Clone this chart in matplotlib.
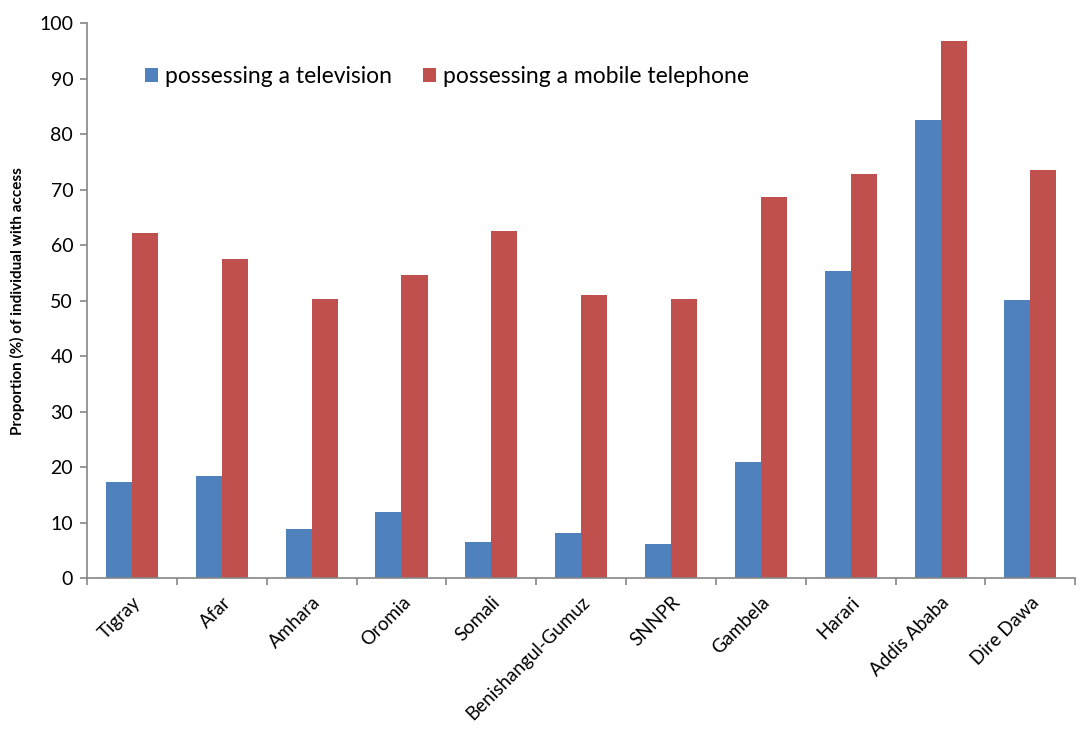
import matplotlib.pyplot as plt
import numpy as np

regions = ['Tigray', 'Afar', 'Amhara', 'Oromia', 'Somali', 'Benishangul-Gumuz',
           'SNNPR', 'Gambela', 'Harari', 'Addis Ababa', 'Dire Dawa']
television = [17.3, 18.4, 8.9, 11.9, 6.5, 8.1, 6.2, 21.0, 55.3, 82.6, 50.1]
mobile = [62.3, 57.5, 50.3, 54.6, 62.5, 51.0, 50.3, 68.7, 72.9, 96.8, 73.5]
yticks = [0, 10, 20, 30, 40, 50, 60, 70, 80, 90, 100]

plt.rcParams['font.family'] = ['Lato', 'DejaVu Sans']

fig = plt.figure(figsize=(10.84, 7.29), dpi=100)
ax = fig.add_axes([0.0803, 0.2067, 0.9117, 0.7613])

x = np.arange(len(regions))
w = 0.29
ax.bar(x - w / 2, television, w, color='#4F81BD', label='possessing a television')
ax.bar(x + w / 2, mobile, w, color='#C0504D', label='possessing a mobile telephone')

# axes and ticks
ax.set_xlim(-0.5, len(regions) - 0.5)
ax.set_ylim(0, 100)
ax.set_yticks(yticks)
ax.set_yticklabels([str(t) for t in yticks], fontsize=14)
ax.set_xticks(np.arange(len(regions) + 1) - 0.5, minor=False)
ax.set_xticklabels([])
ax.set_xticks(x, minor=True)
ax.set_xticklabels(regions, minor=True, rotation=45, ha='right',
                   rotation_mode='anchor', fontsize=13.5)
ax.tick_params(axis='x', which='minor', length=0, pad=11)
ax.tick_params(axis='x', which='major', length=5, color='#868686', width=1.2)
ax.tick_params(axis='y', length=5, color='#868686', width=1.2, pad=5)

for s in ['top', 'right']:
    ax.spines[s].set_visible(False)
for s in ['left', 'bottom']:
    ax.spines[s].set_color('#868686')
    ax.spines[s].set_linewidth(1.2)

ax.set_ylabel('Proportion (%) of individual with access', fontsize=11,
              fontweight='bold', labelpad=10)

ax.legend(loc='upper left', bbox_to_anchor=(0.045, 0.948), ncol=2, frameon=False,
          fontsize=16.5, handlelength=0.57, handleheight=0.57, handletextpad=0.3,
          columnspacing=1.35, borderaxespad=0.2)

fig.savefig('out.png', dpi=100)
